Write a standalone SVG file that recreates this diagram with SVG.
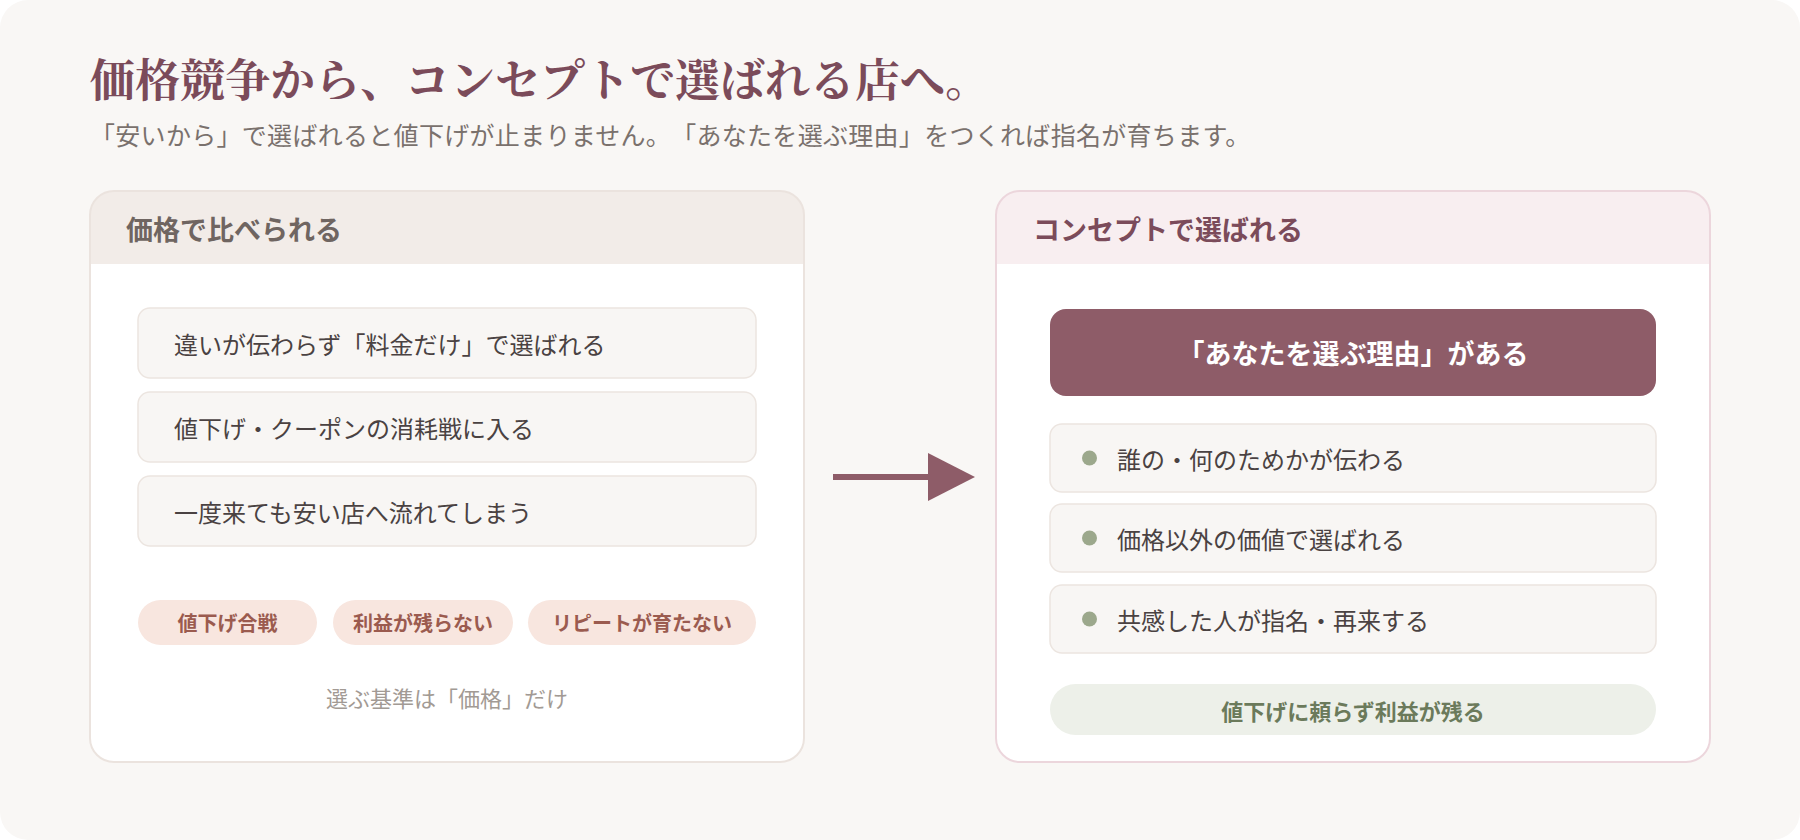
<svg xmlns="http://www.w3.org/2000/svg" width="1800" height="840" viewBox="0 0 1800 840">
<defs>
<style>
text{font-family:"Noto Sans CJK JP","Noto Sans",sans-serif;dominant-baseline:central;text-spacing-trim:space-all}
.title{font-family:"Noto Serif CJK JP","Noto Sans CJK JP",serif;font-size:45px;font-weight:700;fill:#7b4b5a}
.sub{font-size:25px;letter-spacing:0.3px;fill:#7a716d}
.card{fill:#ffffff}
.lborder{fill:none;stroke:#ebe3de;stroke-width:2}
.rborder{fill:none;stroke:#ecd6dc;stroke-width:2}
.lhead{fill:#f2ece8}
.rhead{fill:#f8eef0}
.lhtext{font-size:27px;font-weight:700;fill:#6f6561}
.rhtext{font-size:27px;font-weight:700;fill:#7b4b5a}
.item{fill:#f8f6f4;stroke:#ece5e0;stroke-width:1.5}
.itext{font-size:24px;fill:#4a4242}
.tag{fill:#f8e6df}
.ttext{font-size:20px;font-weight:700;fill:#9b5b4f;text-anchor:middle}
.foot{font-size:22px;fill:#a29a94;text-anchor:middle}
.dark{fill:#8e5c68}
.dtext{font-size:27px;font-weight:700;fill:#ffffff;text-anchor:middle}
.dot{fill:#9ca88c}
.pill{fill:#edf0e9}
.ptext{font-size:22px;font-weight:700;fill:#6b7a5b;text-anchor:middle}
.arrow{fill:#8e5c68}
</style>
</defs>
<rect x="0" y="0" width="1800" height="840" fill="#ffffff"/>
<rect x="0" y="0" width="1800" height="840" rx="28" fill="#f9f7f5"/>

<g id="header">
<text class="title" x="90" y="77">価格競争から、コンセプトで選ばれる店へ。</text>
<text class="sub" x="90" y="134">「安いから」で選ばれると値下げが止まりません。「あなたを選ぶ理由」をつくれば指名が育ちます。</text>
</g>

<g id="left-card">
<rect class="card" x="90" y="191" width="714" height="571" rx="24"/>
<path class="lhead" d="M90,264 V215 A24,24 0 0 1 114,191 H780 A24,24 0 0 1 804,215 V264 Z"/>
<rect class="lborder" x="90" y="191" width="714" height="571" rx="24"/>
<text class="lhtext" x="126" y="228">価格で比べられる</text>
</g>
<g id="left-item-1">
<rect class="item" x="138" y="308" width="618" height="70" rx="12"/>
<text class="itext" x="174" y="343">違いが伝わらず「料金だけ」で選ばれる</text>
</g>
<g id="left-item-2">
<rect class="item" x="138" y="392" width="618" height="70" rx="12"/>
<text class="itext" x="174" y="427">値下げ・クーポンの消耗戦に入る</text>
</g>
<g id="left-item-3">
<rect class="item" x="138" y="476" width="618" height="70" rx="12"/>
<text class="itext" x="174" y="511">一度来ても安い店へ流れてしまう</text>
</g>
<g id="tag-1">
<rect class="tag" x="138" y="600" width="179" height="45" rx="22.5"/>
<text class="ttext" x="227.5" y="622.5">値下げ合戦</text>
</g>
<g id="tag-2">
<rect class="tag" x="333" y="600" width="180" height="45" rx="22.5"/>
<text class="ttext" x="423" y="622.5">利益が残らない</text>
</g>
<g id="tag-3">
<rect class="tag" x="528" y="600" width="228" height="45" rx="22.5"/>
<text class="ttext" x="642" y="622.5">リピートが育たない</text>
</g>
<g id="left-footer">
<text class="foot" x="447" y="697">選ぶ基準は「価格」だけ</text>
</g>

<g id="connectors">
<rect class="arrow" x="833" y="474" width="97" height="6"/>
<polygon class="arrow" points="928,453 975,477 928,501"/>
</g>

<g id="right-card">
<rect class="card" x="996" y="191" width="714" height="571" rx="24"/>
<path class="rhead" d="M996,264 V215 A24,24 0 0 1 1020,191 H1686 A24,24 0 0 1 1710,215 V264 Z"/>
<rect class="rborder" x="996" y="191" width="714" height="571" rx="24"/>
<text class="rhtext" x="1033" y="228">コンセプトで選ばれる</text>
</g>
<g id="reason-box">
<rect class="dark" x="1050" y="309" width="606" height="87" rx="16"/>
<text class="dtext" x="1353" y="352">「あなたを選ぶ理由」がある</text>
</g>
<g id="right-item-1">
<rect class="item" x="1050" y="424" width="606" height="68" rx="12"/>
<circle class="dot" cx="1089.5" cy="458" r="7.5"/>
<text class="itext" x="1117" y="458">誰の・何のためかが伝わる</text>
</g>
<g id="right-item-2">
<rect class="item" x="1050" y="504" width="606" height="68" rx="12"/>
<circle class="dot" cx="1089.5" cy="538" r="7.5"/>
<text class="itext" x="1117" y="538">価格以外の価値で選ばれる</text>
</g>
<g id="right-item-3">
<rect class="item" x="1050" y="585" width="606" height="68" rx="12"/>
<circle class="dot" cx="1089.5" cy="619" r="7.5"/>
<text class="itext" x="1117" y="619">共感した人が指名・再来する</text>
</g>
<g id="result-pill">
<rect class="pill" x="1050" y="684" width="606" height="51" rx="25.5"/>
<text class="ptext" x="1353" y="710">値下げに頼らず利益が残る</text>
</g>
</svg>
